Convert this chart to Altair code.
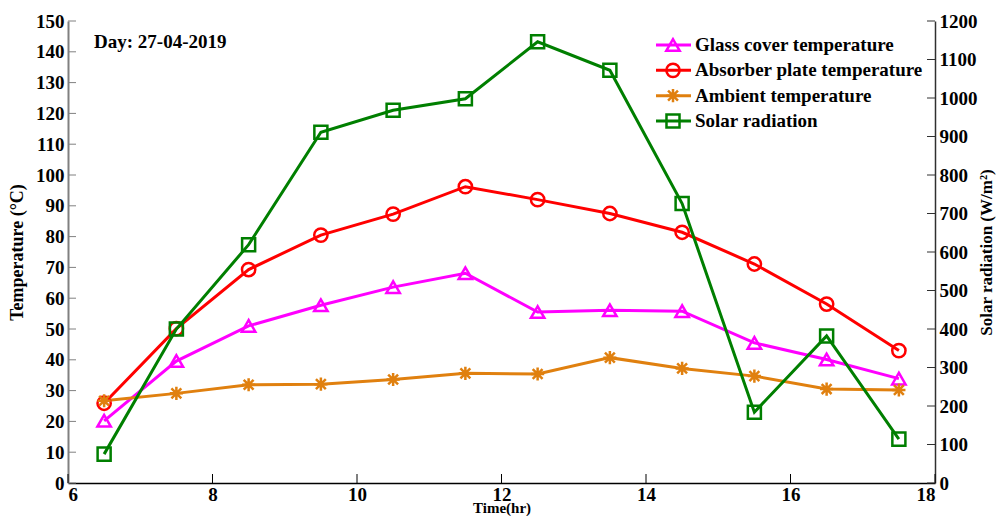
import altair as alt
import pandas as pd

# ---------------- data ----------------
time_hr = [6.5, 7.5, 8.5, 9.5, 10.5, 11.5, 12.5, 13.5, 14.5, 15.5, 16.5, 17.5]
glass_cover = [20.2, 39.6, 51.0, 57.7, 63.6, 68.1, 55.5, 56.1, 55.8, 45.5, 40.1, 33.9]
absorber_plate = [25.9, 50.1, 69.3, 80.5, 87.3, 96.2, 92.0, 87.5, 81.4, 71.1, 58.1, 43.0]
ambient = [26.7, 29.1, 31.9, 32.1, 33.6, 35.6, 35.4, 40.7, 37.2, 34.7, 30.5, 30.2]
solar_radiation = [75, 400, 619, 911, 968, 998, 1146, 1072, 726, 184, 382, 114]

series_names = ["Glass cover temperature", "Absorber plate temperature",
                "Ambient temperature", "Solar radiation"]
series_colors = ["#FF00FF", "#FF0000", "#E0800F", "#007F00"]
ASTERISK = "M-1,0L1,0M0,-1L0,1M-0.75,-0.75L0.75,0.75M-0.75,0.75L0.75,-0.75"
series_shapes = ["triangle-up", "circle", ASTERISK, "square"]
series_marker_sizes = [180, 170, 70, 130]

x_ticks = [6, 8, 10, 12, 14, 16, 18]
left_ticks = list(range(0, 151, 10))
right_ticks = list(range(0, 1201, 100))
day_label = "Day: 27-04-2019"

# ---------------- tables ----------------
temp_rows = []
for name, vals in zip(series_names[:3], [glass_cover, absorber_plate, ambient]):
    for t, v in zip(time_hr, vals):
        temp_rows.append({"time": t, "value": v, "series": name})
temp_df = pd.DataFrame(temp_rows)
solar_df = pd.DataFrame({"time": time_hr, "value": solar_radiation,
                         "series": series_names[3]})

W, H = 867, 462
FONT = "Liberation Serif"

x_scale = alt.Scale(domain=[6, 18], nice=False)
yl_scale = alt.Scale(domain=[0, 150], nice=False)
yr_scale = alt.Scale(domain=[0, 1200], nice=False)
color_scale = alt.Scale(domain=series_names, range=series_colors)
shape_scale = alt.Scale(domain=series_names, range=series_shapes)
size_scale = alt.Scale(domain=series_names, range=series_marker_sizes)

x_axis = alt.Axis(values=x_ticks, title="Time(hr)", ticks=False, tickSize=0,
                  domainColor="#000000", domainWidth=1.5, labelPadding=2,
                  titlePadding=-4, titleFontSize=15, grid=False, format="d")
left_axis = alt.Axis(orient="left", values=left_ticks, title="Temperature (°C)",
                     ticks=False, tickSize=0, domainColor="#808080", domainWidth=2,
                     labelPadding=4, titlePadding=9, grid=False, format="d")
right_axis = alt.Axis(orient="right", values=right_ticks, title="Solar radiation (W/m²)",
                      ticks=False, tickSize=0, domainColor="#303030", domainWidth=1.5,
                      labelPadding=4, titlePadding=1, titleAngle=270,
                      titleFontSize=17, titleBaseline="top", grid=False, format="d")

color_enc = alt.Color("series:N", scale=color_scale, legend=None)
shape_enc = alt.Shape("series:N", scale=shape_scale, legend=None)
size_enc = alt.Size("series:N", scale=size_scale, legend=None)

# ---------------- temperature (left axis) ----------------
temp_line = alt.Chart(temp_df).mark_line(strokeWidth=3).encode(
    x=alt.X("time:Q", scale=x_scale, axis=x_axis),
    y=alt.Y("value:Q", scale=yl_scale, axis=left_axis),
    color=color_enc,
)
temp_pts = alt.Chart(temp_df).mark_point(filled=False, strokeWidth=2.5,
                                         opacity=1).encode(
    x=alt.X("time:Q", scale=x_scale, axis=x_axis),
    y=alt.Y("value:Q", scale=yl_scale, axis=left_axis),
    color=color_enc,
    shape=shape_enc,
    size=size_enc,
)
lt_df = pd.DataFrame({"v": left_ticks})
left_tick_marks = alt.Chart(lt_df).mark_rule(color="#808080", strokeWidth=1).encode(
    y=alt.Y("v:Q", scale=yl_scale, axis=left_axis),
    x=alt.value(0), x2=alt.value(8),
)
xt_df = pd.DataFrame({"v": x_ticks})
x_tick_marks = alt.Chart(xt_df).mark_rule(color="#000000", strokeWidth=1).encode(
    x=alt.X("v:Q", scale=x_scale, axis=x_axis),
    y=alt.value(H - 9), y2=alt.value(H),
)
left_layer = alt.layer(temp_line, temp_pts, left_tick_marks, x_tick_marks)

# ---------------- solar radiation (right axis) ----------------
solar_line = alt.Chart(solar_df).mark_line(strokeWidth=3).encode(
    x=alt.X("time:Q", scale=x_scale, axis=x_axis),
    y=alt.Y("value:Q", scale=yr_scale, axis=right_axis),
    color=color_enc,
)
solar_pts = alt.Chart(solar_df).mark_point(filled=False, strokeWidth=2.5,
                                           opacity=1).encode(
    x=alt.X("time:Q", scale=x_scale, axis=x_axis),
    y=alt.Y("value:Q", scale=yr_scale, axis=right_axis),
    color=color_enc,
    shape=shape_enc,
    size=size_enc,
)
rt_df = pd.DataFrame({"v": right_ticks})
right_tick_marks = alt.Chart(rt_df).mark_rule(color="#303030", strokeWidth=1).encode(
    y=alt.Y("v:Q", scale=yr_scale, axis=right_axis),
    x=alt.value(W - 8), x2=alt.value(W),
)
right_layer = alt.layer(solar_line, solar_pts, right_tick_marks)

# ---------------- legend (drawn manually) ----------------
leg_df = pd.DataFrame({"series": series_names})
leg_y = alt.Y("series:N", scale=alt.Scale(type="point", domain=series_names,
                                          range=[24, 100], padding=0), axis=None)
leg_rule = alt.Chart(leg_df).mark_rule(strokeWidth=3).encode(
    y=leg_y, x=alt.value(588), x2=alt.value(623), color=color_enc,
)
leg_pts = alt.Chart(leg_df).mark_point(filled=False, strokeWidth=2.5,
                                       opacity=1).encode(
    y=leg_y, x=alt.value(605), color=color_enc, shape=shape_enc, size=size_enc,
)
leg_text = alt.Chart(leg_df).mark_text(align="left", baseline="middle", font=FONT,
                                       fontSize=19, fontWeight="bold",
                                       color="#000000").encode(
    y=leg_y, x=alt.value(627), text="series:N",
)
legend_layer = alt.layer(leg_rule, leg_pts, leg_text)

day_text = alt.Chart(pd.DataFrame({"t": [day_label]})).mark_text(
    align="left", baseline="middle", font=FONT, fontSize=19, fontWeight="bold",
    color="#000000").encode(x=alt.value(26), y=alt.value(21), text="t:N")

chart = alt.layer(left_layer, right_layer, legend_layer, day_text).resolve_scale(
    y="independent"
).properties(
    width=W, height=H,
    autosize=alt.AutoSizeParams(type="none"),
    padding={"left": 60, "top": 13, "right": 61, "bottom": 33},
).configure_view(stroke=None).configure_axis(
    labelFont=FONT, titleFont=FONT, labelFontSize=19, titleFontSize=18,
    labelFontWeight="bold", titleFontWeight="bold", labelColor="#000000",
    titleColor="#000000",
)

chart.save("out.html", embed_options={"renderer": "svg", "actions": False})
